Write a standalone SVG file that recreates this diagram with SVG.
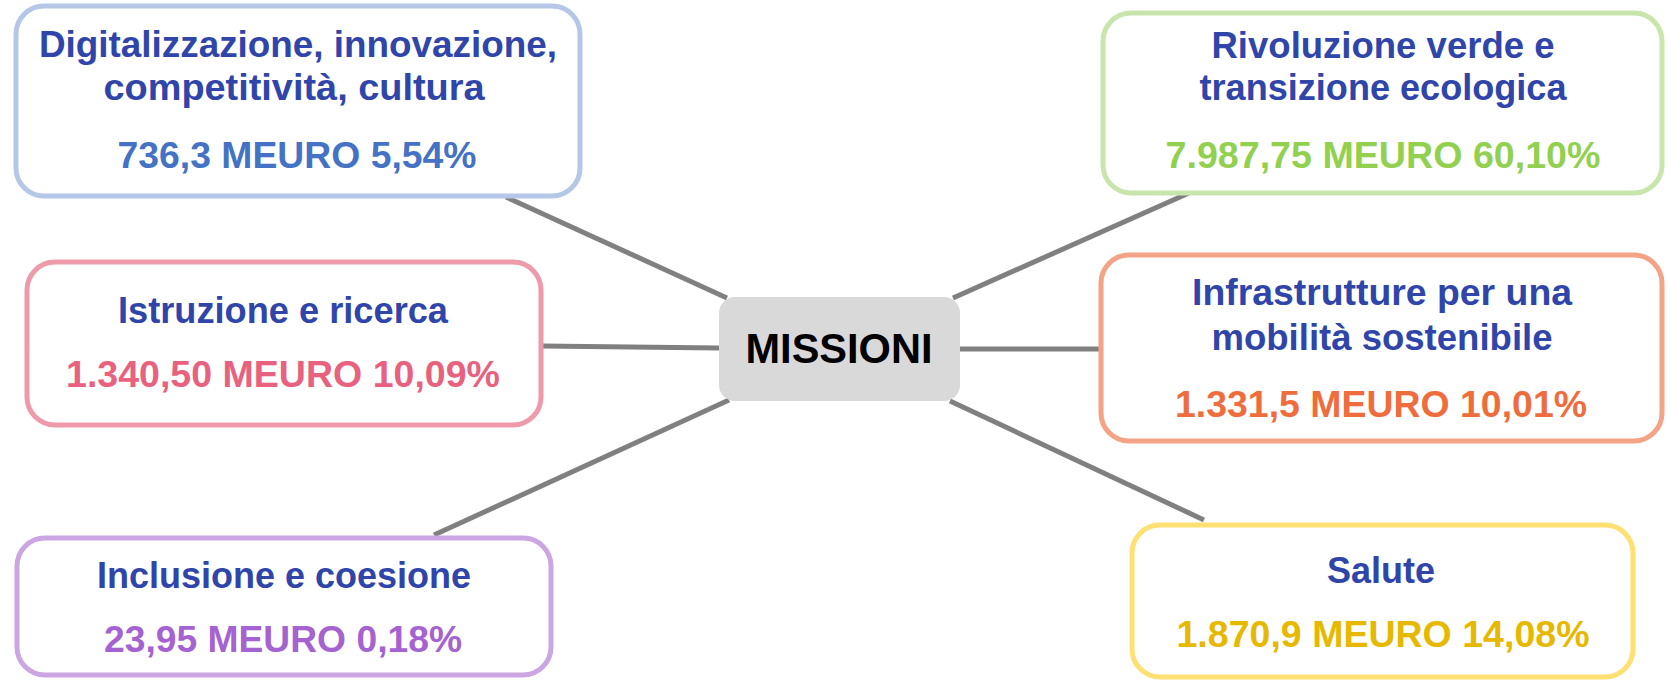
<svg xmlns="http://www.w3.org/2000/svg" width="1669" height="680" viewBox="0 0 1669 680">
<style>
.box{fill:#ffffff;stroke-width:5}
.t{font-family:"Liberation Sans",Arial,sans-serif;font-weight:bold;font-size:36.5px;text-anchor:middle}
.title{fill:#2F45A9}
.conn{stroke:#808080;stroke-width:5;fill:none}
</style>
<rect width="1669" height="680" fill="#ffffff"/>
<g id="connectors">
<line class="conn" x1="506" y1="197" x2="727" y2="298"/>
<line class="conn" x1="1189" y1="193" x2="953" y2="298"/>
<line class="conn" x1="542" y1="346" x2="719" y2="348"/>
<line class="conn" x1="960" y1="349" x2="1101" y2="349"/>
<line class="conn" x1="434" y1="535" x2="729" y2="400"/>
<line class="conn" x1="950" y1="401" x2="1204" y2="520"/>
</g>
<g id="center">
<rect x="719" y="297" width="241" height="104" rx="16" fill="#D9D9D9"/>
<text class="t" x="839" y="363" style="font-size:42px;fill:#000000" textLength="187" lengthAdjust="spacingAndGlyphs">MISSIONI</text>
</g>
<g id="digitalizzazione">
<rect class="box" x="16" y="6" width="564" height="190" rx="28" stroke="#B4C7E7"/>
<text class="t title" x="298" y="57" textLength="518" lengthAdjust="spacingAndGlyphs">Digitalizzazione, innovazione,</text>
<text class="t title" x="294" y="100" textLength="381" lengthAdjust="spacingAndGlyphs">competitività, cultura</text>
<text class="t" x="297" y="168" fill="#4472C4" textLength="359" lengthAdjust="spacingAndGlyphs">736,3 MEURO 5,54%</text>
</g>
<g id="rivoluzione">
<rect class="box" x="1103" y="13" width="559" height="180" rx="28" stroke="#C8E6AC"/>
<text class="t title" x="1383" y="58" textLength="343" lengthAdjust="spacingAndGlyphs">Rivoluzione verde e</text>
<text class="t title" x="1383" y="100" textLength="367" lengthAdjust="spacingAndGlyphs">transizione ecologica</text>
<text class="t" x="1383" y="168" fill="#92D050" textLength="435" lengthAdjust="spacingAndGlyphs">7.987,75 MEURO 60,10%</text>
</g>
<g id="istruzione">
<rect class="box" x="27" y="262" width="514" height="163" rx="28" stroke="#EE9AAB"/>
<text class="t title" x="283" y="323" textLength="330" lengthAdjust="spacingAndGlyphs">Istruzione e ricerca</text>
<text class="t" x="283" y="387" fill="#E8617F" textLength="434" lengthAdjust="spacingAndGlyphs">1.340,50 MEURO 10,09%</text>
</g>
<g id="infrastrutture">
<rect class="box" x="1101" y="255" width="561" height="186" rx="28" stroke="#F4A386"/>
<text class="t title" x="1382" y="305" textLength="380" lengthAdjust="spacingAndGlyphs">Infrastrutture per una</text>
<text class="t title" x="1382" y="350" textLength="341" lengthAdjust="spacingAndGlyphs">mobilità sostenibile</text>
<text class="t" x="1381" y="417" fill="#EF6D3D" textLength="412" lengthAdjust="spacingAndGlyphs">1.331,5 MEURO 10,01%</text>
</g>
<g id="inclusione">
<rect class="box" x="17" y="538" width="534" height="137" rx="28" stroke="#CCA6E3"/>
<text class="t title" x="284" y="588" textLength="374" lengthAdjust="spacingAndGlyphs">Inclusione e coesione</text>
<text class="t" x="283" y="652" fill="#A463D1" textLength="358" lengthAdjust="spacingAndGlyphs">23,95 MEURO 0,18%</text>
</g>
<g id="salute">
<rect class="box" x="1132" y="525" width="501" height="152" rx="28" stroke="#FFE073"/>
<text class="t title" x="1381" y="583" textLength="108" lengthAdjust="spacingAndGlyphs">Salute</text>
<text class="t" x="1383" y="647" fill="#E6B800" textLength="413" lengthAdjust="spacingAndGlyphs">1.870,9 MEURO 14,08%</text>
</g>
</svg>
